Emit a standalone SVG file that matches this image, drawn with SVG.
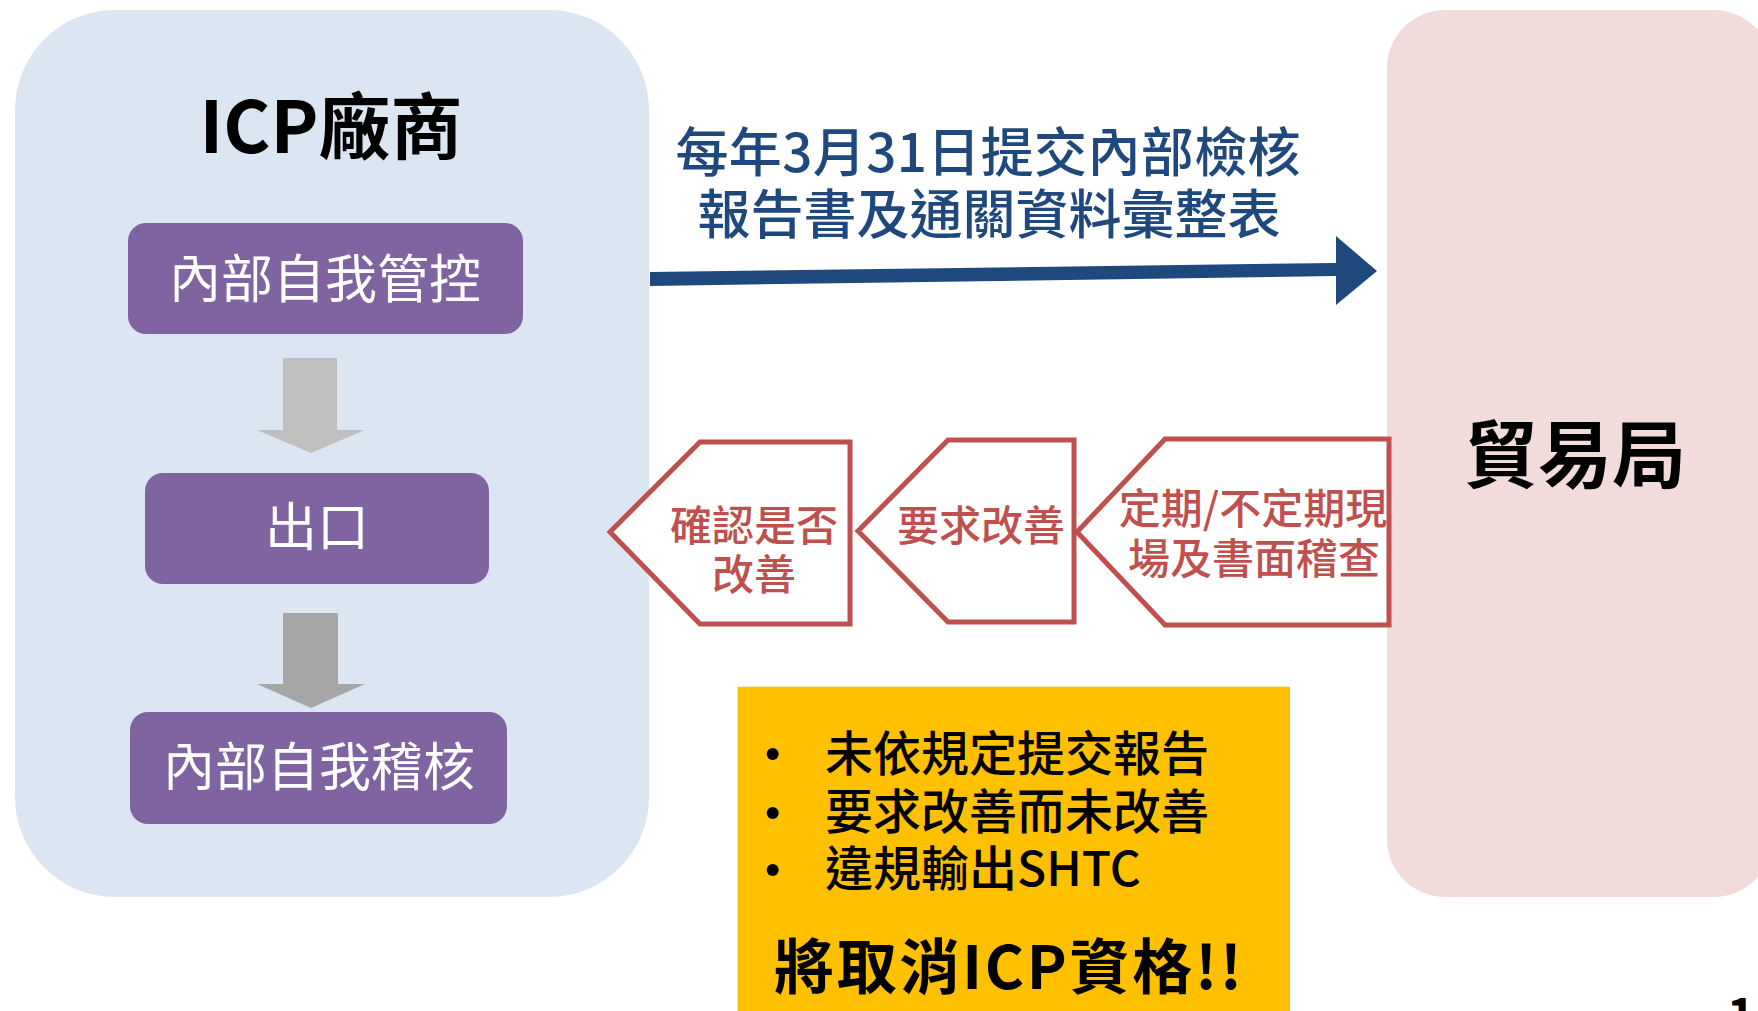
<svg xmlns="http://www.w3.org/2000/svg" width="1758" height="1011" viewBox="0 0 1758 1011">
<style>
text{font-family:"Noto Sans CJK TC","Noto Sans CJK SC","Noto Sans",sans-serif}
.pbox{fill:#8064A2}
.ptxt{fill:#FFFFFF;font-size:52px;text-anchor:middle}
.chev{fill:#FFFFFF;stroke:#C0504D;stroke-width:5;stroke-linejoin:miter}
.rtxt{fill:#C0504D;font-size:42px;text-anchor:middle;font-weight:500}
.btxt{fill:#1F497D;font-size:53px;text-anchor:middle;font-weight:500}
.ytxt{fill:#000000;font-size:48px;font-weight:500}
</style>
<rect width="1758" height="1011" fill="#FFFFFF"/>
<g id="icp-vendor">
  <rect x="15" y="10" width="634" height="887" rx="100" ry="100" fill="#DCE6F2"/>
  <text x="331" y="153" font-size="72" font-weight="bold" text-anchor="middle" fill="#000000">ICP廠商</text>
</g>
<g id="trade-bureau">
  <rect x="1387" y="10" width="385" height="887" rx="58" ry="58" fill="#F2DCDB"/>
  <text x="1575" y="482" font-size="74" font-weight="bold" text-anchor="middle" fill="#000000">貿易局</text>
</g>
<g id="self-control">
  <rect class="pbox" x="128" y="223" width="395" height="111" rx="18"/>
  <text class="ptxt" x="325" y="298">內部自我管控</text>
</g>
<g id="export">
  <rect class="pbox" x="145" y="473" width="344" height="111" rx="18"/>
  <text class="ptxt" x="317" y="546">出口</text>
</g>
<g id="self-audit">
  <rect class="pbox" x="130" y="712" width="377" height="112" rx="18"/>
  <text class="ptxt" x="319" y="786">內部自我稽核</text>
</g>
<g id="inspection">
  <polygon class="chev" points="1077,532 1165,439 1389,439 1389,625 1165,625"/>
  <text class="rtxt" x="1253" y="524">定期/不定期現</text>
  <text class="rtxt" x="1254" y="574">場及書面稽查</text>
</g>
<g id="require-improve">
  <polygon class="chev" points="858,531 948,440 1074,440 1074,622 948,622"/>
  <text class="rtxt" x="981" y="541">要求改善</text>
</g>
<g id="confirm-improve">
  <polygon class="chev" points="610,532 700,442 850,442 850,624 700,624"/>
  <text class="rtxt" x="754" y="541">確認是否</text>
  <text class="rtxt" x="754" y="590">改善</text>
</g>
<g id="warning">
  <rect x="737.6" y="686.7" width="552.4" height="330" fill="#FFC000"/>
  <circle cx="772.7" cy="754" r="6" fill="#000000"/>
  <circle cx="772.7" cy="813" r="6" fill="#000000"/>
  <circle cx="772.7" cy="870" r="6" fill="#000000"/>
  <text class="ytxt" x="825" y="771">未依規定提交報告</text>
  <text class="ytxt" x="825" y="829">要求改善而未改善</text>
  <text class="ytxt" x="825" y="886">違規輸出SHTC</text>
  <text x="1008" y="989" font-size="60" font-weight="bold" text-anchor="middle" fill="#000000" textLength="468" lengthAdjust="spacing">將取消ICP資格!!</text>
</g>
<g id="report-label">
  <text class="btxt" x="988" y="172" textLength="625" lengthAdjust="spacing">每年3月31日提交內部檢核</text>
  <text class="btxt" x="989" y="234">報告書及通關資料彙整表</text>
</g>
<g id="connectors">
  <polygon points="650,272 1336,263 1336,236 1377,271 1336,305 1336,276 650,286" fill="#1F497D"/>
  <polygon points="283,358 337,358 337,430 365,430 311,453 257,430 283,430" fill="#BFBFBF"/>
  <polygon points="283,613 338,613 338,684 365,684 311,708 257,684 283,684" fill="#A6A6A6"/>
</g>
<text x="1727" y="1033" font-size="48" font-weight="bold" fill="#000000">1</text>
</svg>
